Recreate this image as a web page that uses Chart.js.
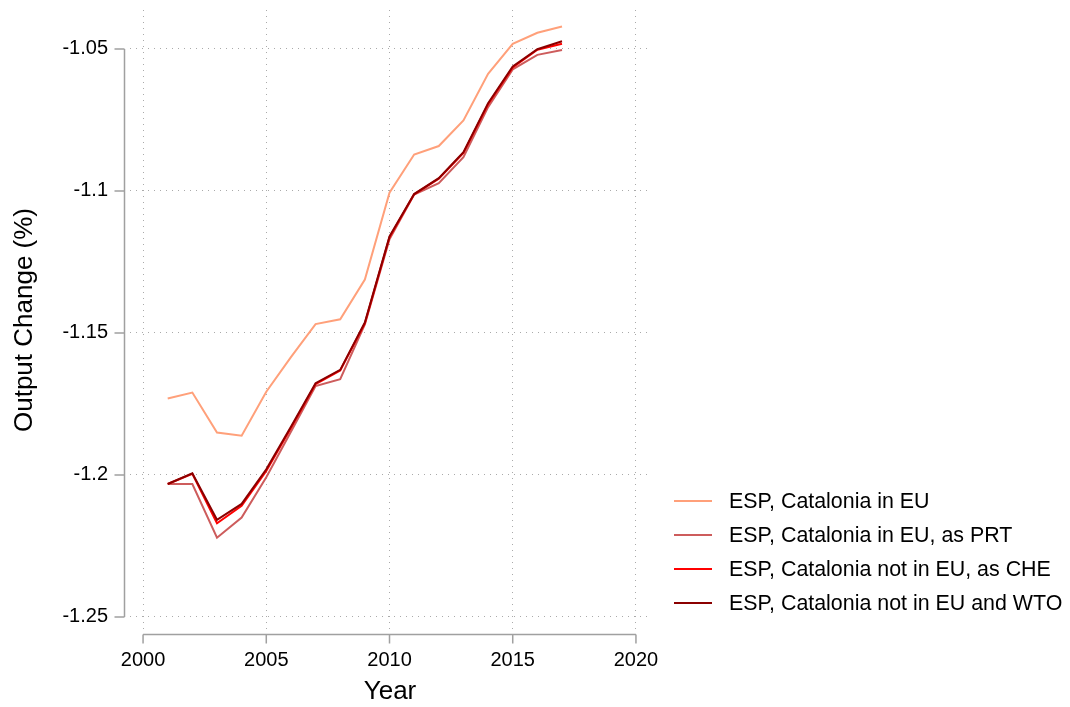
<!DOCTYPE html>
<html>
<head>
<meta charset="utf-8">
<script src="https://cdn.jsdelivr.net/npm/chart.js@4.4.1/dist/chart.umd.min.js"></script>
<style>
html,body{margin:0;padding:0;background:#fff;}
#wrap{position:relative;width:1070px;height:707px;overflow:hidden;}
#legend{position:absolute;left:674px;top:484px;font:21.4px "Liberation Sans",Arial,sans-serif;color:#000;}
.item{display:flex;align-items:center;height:34px;white-space:nowrap;}
.sw{width:38px;height:2px;margin-right:17px;flex:none;}
</style>
</head>
<body>
<div id="wrap">
<canvas id="c" width="1070" height="707"></canvas>
<div id="legend"></div>
</div>
<script>
const years = [2001,2002,2003,2004,2005,2006,2007,2008,2009,2010,2011,2012,2013,2014,2015,2016,2017];
const seriesNames = ["ESP, Catalonia in EU","ESP, Catalonia in EU, as PRT","ESP, Catalonia not in EU, as CHE","ESP, Catalonia not in EU and WTO"];
const catInEU   = [-1.1731,-1.1710,-1.1851,-1.1862,-1.1707,-1.1585,-1.1469,-1.1452,-1.1312,-1.1006,-1.0872,-1.0842,-1.0752,-1.0588,-1.0482,-1.0443,-1.0421];
const catAsPRT  = [-1.2032,-1.2032,-1.2221,-1.2150,-1.2008,-1.1848,-1.1687,-1.1663,-1.1470,-1.1170,-1.1013,-1.0973,-1.0881,-1.0705,-1.0572,-1.0521,-1.0504];
const catAsCHE  = [-1.2032,-1.1996,-1.2170,-1.2109,-1.1986,-1.1835,-1.1680,-1.1632,-1.1466,-1.1163,-1.1012,-1.0957,-1.0866,-1.0695,-1.0565,-1.0503,-1.0482];
const catNoWTO  = [-1.2032,-1.1994,-1.2158,-1.2102,-1.1980,-1.1830,-1.1677,-1.1630,-1.1463,-1.1160,-1.1011,-1.0955,-1.0864,-1.0691,-1.0562,-1.0501,-1.0473];
const xTicks = [2000,2005,2010,2015,2020];
const yTicks = [-1.25,-1.2,-1.15,-1.1,-1.05];
const yTickLabels = ["-1.25","-1.2","-1.15","-1.1","-1.05"];

const colors = ["#FFA07A","#CD5C5C","#FF0000","#8B0000"];
const allSeries = [catInEU, catAsPRT, catAsCHE, catNoWTO];
const FONT = "'Liberation Sans', Arial, sans-serif";

const datasets = allSeries.map((vals, i) => ({
  label: seriesNames[i],
  data: years.map((y, j) => ({x: y, y: vals[j]})),
  borderColor: colors[i],
  backgroundColor: colors[i],
  borderWidth: 2,
  pointRadius: 0,
  tension: 0,
  fill: false,
  order: 3 - i
}));

const axisLines = {
  id: 'axisLines',
  afterDraw(chart) {
    const ctx = chart.ctx;
    const xs = chart.scales.x, ys = chart.scales.y;
    ctx.save();
    ctx.strokeStyle = '#a0a0a0';
    ctx.lineWidth = 1.5;
    const ax = 124.5;
    const yTop = ys.getPixelForValue(yTicks[yTicks.length-1]);
    const yBot = ys.getPixelForValue(yTicks[0]);
    ctx.beginPath();
    ctx.moveTo(ax, yTop); ctx.lineTo(ax, yBot);
    yTicks.forEach(v => { const p = ys.getPixelForValue(v); ctx.moveTo(ax, p); ctx.lineTo(ax - 10, p); });
    ctx.stroke();
    const ay = 634.5;
    const xL = xs.getPixelForValue(xTicks[0]);
    const xR = xs.getPixelForValue(xTicks[xTicks.length-1]);
    ctx.beginPath();
    ctx.moveTo(xL, ay); ctx.lineTo(xR, ay);
    xTicks.forEach(v => { const p = xs.getPixelForValue(v); ctx.moveTo(p, ay); ctx.lineTo(p, ay + 9); });
    ctx.stroke();
    ctx.restore();
  }
};

function zeroPad(s) { s.paddingTop = 0; s.paddingBottom = 0; s.paddingLeft = 0; s.paddingRight = 0; }

new Chart(document.getElementById('c'), {
  type: 'line',
  data: { datasets },
  options: {
    responsive: false,
    animation: false,
    devicePixelRatio: 1,
    layout: { padding: { top: 10, right: 420, bottom: 0, left: 0 } },
    plugins: { legend: { display: false }, tooltip: { enabled: false } },
    scales: {
      x: {
        type: 'linear',
        min: 1999.47, max: 2020.57,
        afterBuildTicks(s) { s.ticks = xTicks.map(v => ({value: v})); },
        afterFit(s) { s.height = 77; zeroPad(s); },
        border: { display: false, dash: [1,5] },
        grid: { color: '#aaaaaa', lineWidth: 1, drawTicks: false },
        ticks: { padding: 18, color: '#000', font: { family: FONT, size: 20 }, callback: v => String(v), maxRotation: 0 },
        title: { display: true, text: 'Year', color: '#000', font: { family: FONT, size: 26 }, padding: { top: 0, bottom: 0 } }
      },
      y: {
        type: 'linear',
        min: -1.2546, max: -1.0363,
        afterBuildTicks(s) { s.ticks = yTicks.map(v => ({value: v})); },
        afterFit(s) { s.width = 130; zeroPad(s); },
        border: { display: false, dash: [1,5] },
        grid: { color: '#aaaaaa', lineWidth: 1, drawTicks: false },
        ticks: { padding: 22, color: '#000', font: { family: FONT, size: 20 },
                 callback: (v) => { const k = yTicks.findIndex(t => Math.abs(t - v) < 1e-9); return k >= 0 ? yTickLabels[k] : ''; } },
        title: { display: true, text: 'Output Change (%)', color: '#000', font: { family: FONT, size: 26 }, padding: { top: 9, bottom: 0 } }
      }
    }
  },
  plugins: [axisLines]
});

const leg = document.getElementById('legend');
seriesNames.forEach((n, i) => {
  const d = document.createElement('div'); d.className = 'item';
  const s = document.createElement('span'); s.className = 'sw'; s.style.background = colors[i];
  const t = document.createElement('span'); t.textContent = n;
  d.appendChild(s); d.appendChild(t); leg.appendChild(d);
});
</script>
</body>
</html>
